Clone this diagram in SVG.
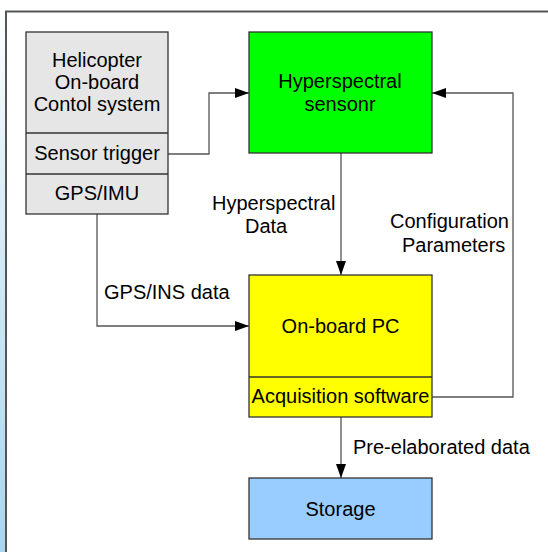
<svg xmlns="http://www.w3.org/2000/svg" width="548" height="552" viewBox="0 0 548 552">
<defs>
<linearGradient id="bg" x1="0" y1="0" x2="0" y2="1">
<stop offset="0" stop-color="#ffffff"/>
<stop offset="0.3" stop-color="#dff0f8"/>
<stop offset="1" stop-color="#a9d6ee"/>
</linearGradient>
<marker id="ah" viewBox="0 0 14 10" refX="14" refY="5" markerWidth="14" markerHeight="10" markerUnits="userSpaceOnUse" orient="auto">
<path d="M0,0 L14,5 L0,10 Z" fill="#000"/>
</marker>
<style>
text{font-family:"Liberation Sans",Arial,sans-serif;font-size:20px;fill:#000}
.c{text-anchor:middle}
.box{stroke:#333;stroke-width:1.3}
.div{stroke:#333;stroke-width:1.3}
.con{fill:none;stroke:#555;stroke-width:1.3}
</style>
</defs>
<rect x="0" y="0" width="548" height="552" fill="#fff"/>
<rect x="0" y="0" width="6" height="552" fill="url(#bg)"/>
<rect x="6" y="11.5" width="560" height="560" fill="#fff" stroke="#555" stroke-width="2"/>

<g id="connectors">
<polyline class="con" points="168,154 209,154 209,93 249,93" marker-end="url(#ah)"/>
<polyline class="con" points="432,397 513,397 513,93 432,93" marker-end="url(#ah)"/>
<line class="con" x1="341" y1="153" x2="341" y2="275" marker-end="url(#ah)"/>
<polyline class="con" points="97,214 97,326 249,326" marker-end="url(#ah)"/>
<line class="con" x1="341" y1="417" x2="341" y2="478" marker-end="url(#ah)"/>
<text x="212" y="210">Hyperspectral</text>
<text x="245" y="233">Data</text>
<text x="390" y="228">Configuration</text>
<text x="402" y="252">Parameters</text>
<text x="104" y="299">GPS/INS data</text>
<text x="353" y="454">Pre-elaborated data</text>
</g>

<g id="helicopter">
<rect class="box" x="26" y="32" width="142" height="182" fill="#e6e6e6"/>
<line class="div" x1="26" y1="133" x2="168" y2="133"/>
<line class="div" x1="26" y1="174" x2="168" y2="174"/>
<text class="c" x="97" y="67">Helicopter</text>
<text class="c" x="97" y="89">On-board</text>
<text class="c" x="97" y="111">Contol system</text>
<text class="c" x="97" y="160">Sensor trigger</text>
<text class="c" x="97" y="200">GPS/IMU</text>
</g>

<g id="sensor">
<rect class="box" x="249" y="32" width="183" height="121" fill="#00ff00"/>
<text class="c" x="340" y="88">Hyperspectral</text>
<text class="c" x="340" y="111">sensonr</text>
</g>

<g id="pc">
<rect class="box" x="249" y="275" width="183" height="142" fill="#ffff00"/>
<line class="div" x1="249" y1="377" x2="432" y2="377"/>
<text class="c" x="340.5" y="333">On-board PC</text>
<text class="c" x="340.5" y="403">Acquisition software</text>
</g>

<g id="storage">
<rect class="box" x="249" y="478" width="183" height="61" fill="#99ccff"/>
<text class="c" x="340.5" y="516">Storage</text>
</g>
</svg>
